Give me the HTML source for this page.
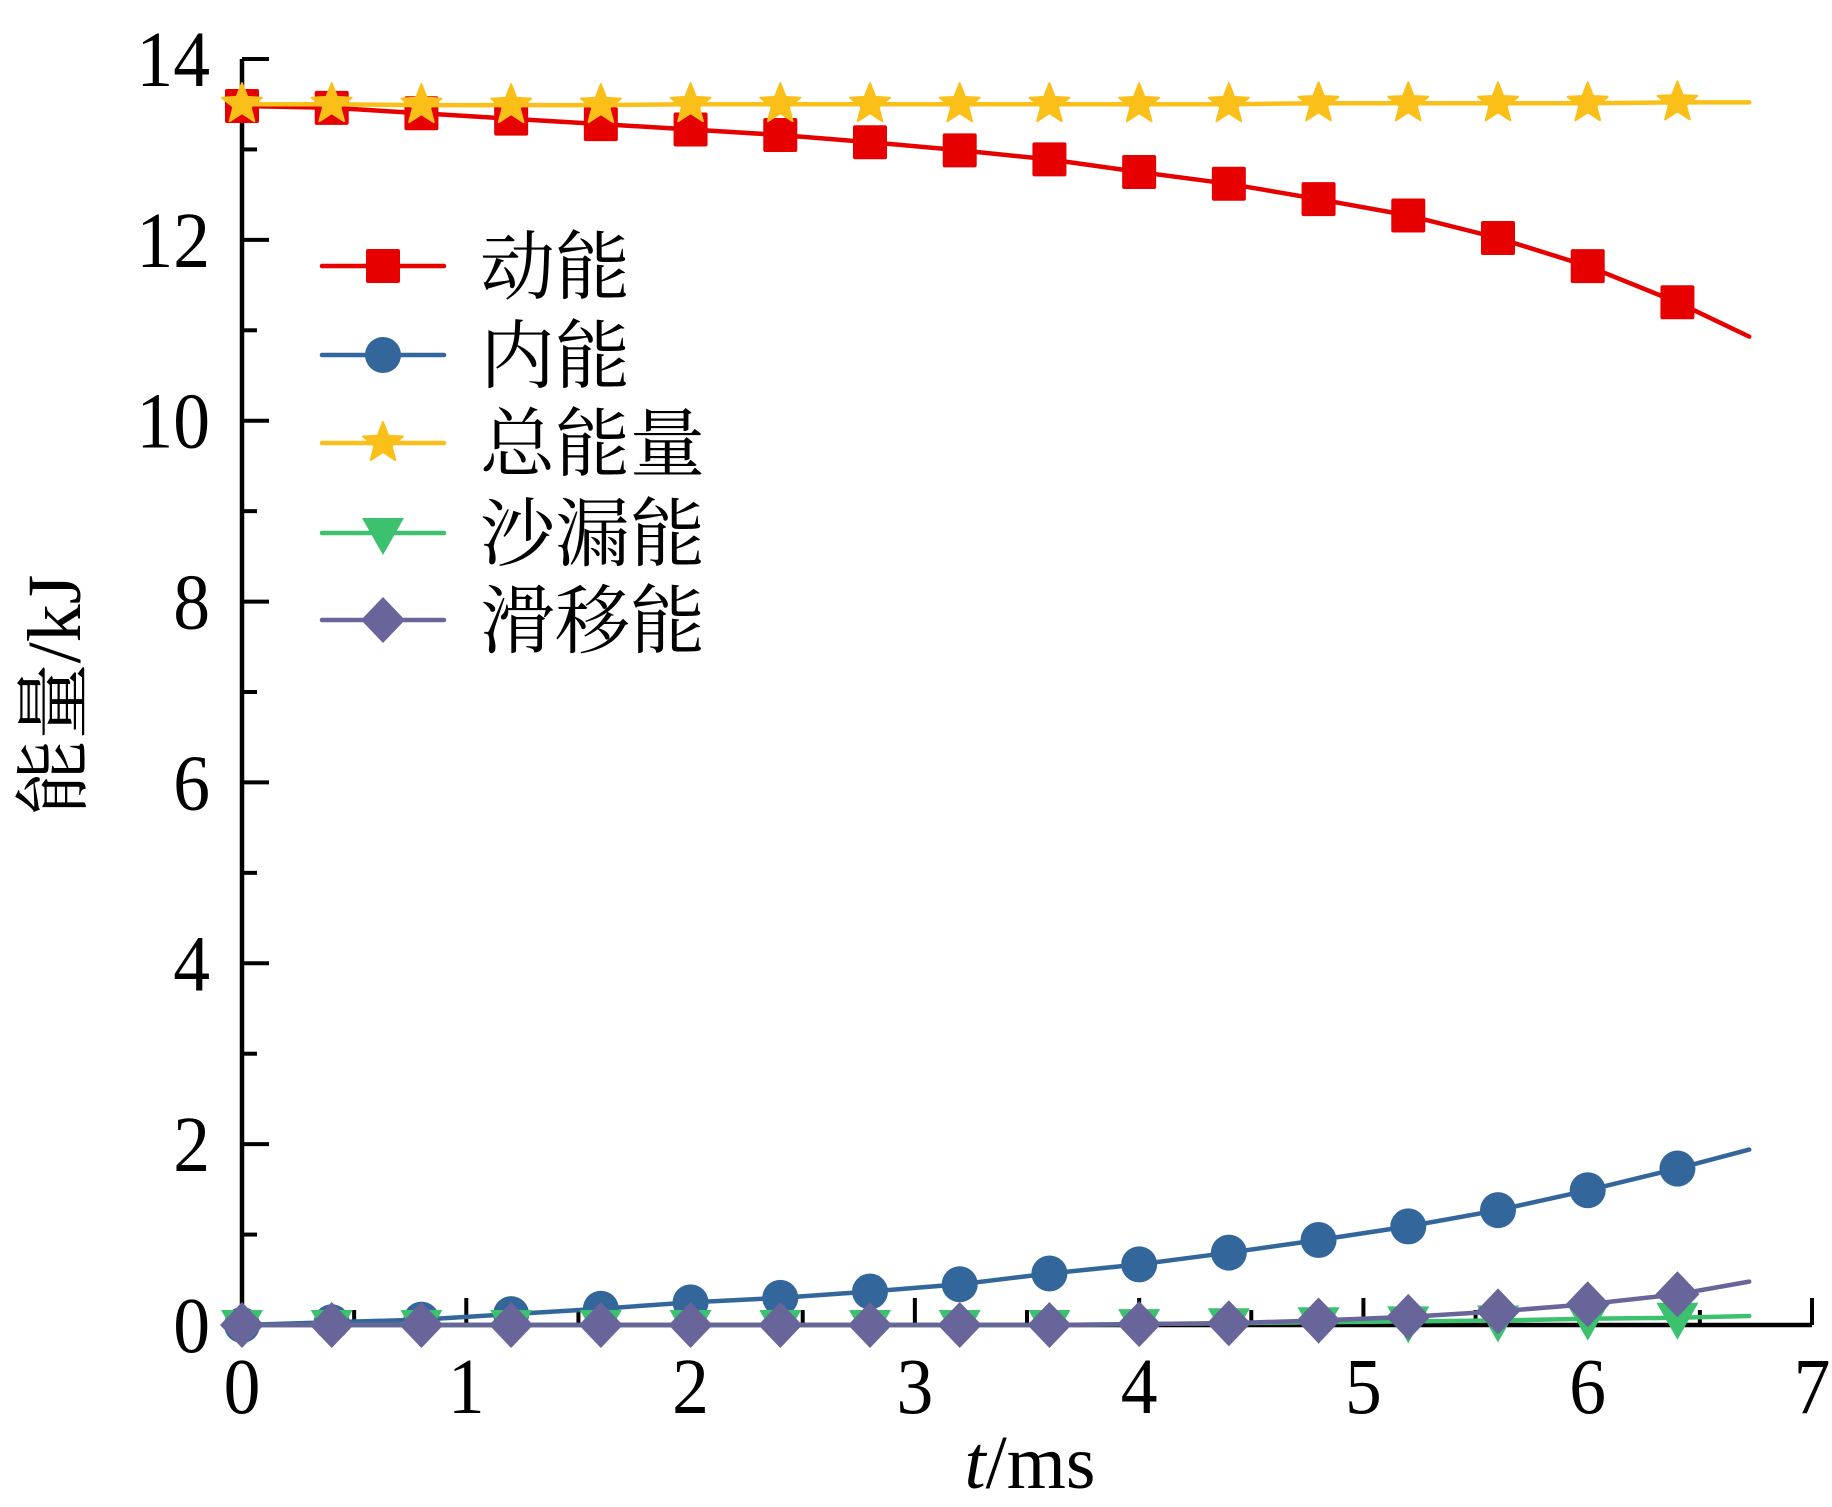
<!DOCTYPE html>
<html><head><meta charset="utf-8"><style>
html,body{margin:0;padding:0;background:#fff;}
svg{display:block;}
</style></head><body>
<svg id="chart" width="1832" height="1507" viewBox="0 0 1832 1507" xmlns="http://www.w3.org/2000/svg">
<g id="grid-axes"></g>
<g id="series"></g>
<g id="legend"></g>
<text transform="translate(80,695) rotate(-90)" text-anchor="middle" font-family="Liberation Serif, Noto Serif CJK SC, serif" font-size="76">能量/kJ</text>
<text x="1030" y="1488" text-anchor="middle" font-family="Liberation Serif, serif" font-size="76"><tspan font-style="italic">t</tspan>/ms</text>
</svg>
<script>
const markerT = [0,0.4,0.8,1.2,1.6,2.0,2.4,2.8,3.2,3.6,4.0,4.4,4.8,5.2,5.6,6.0,6.4,6.72];
const kinetic = [13.48,13.46,13.40,13.34,13.28,13.22,13.16,13.08,12.99,12.89,12.75,12.62,12.45,12.27,12.02,11.71,11.31,10.93];
const internal = [0,0.03,0.06,0.12,0.18,0.25,0.30,0.37,0.45,0.57,0.67,0.80,0.94,1.09,1.27,1.49,1.73,1.94];
const total = [13.50,13.50,13.49,13.49,13.49,13.50,13.50,13.50,13.50,13.50,13.50,13.50,13.51,13.51,13.51,13.51,13.52,13.52];
const sand = [0,0,0,0,0,0,0,0,0,0,0.01,0.02,0.03,0.04,0.05,0.07,0.08,0.10];
const slip = [0,0,0,0,0,0,0,0,0,0,0.01,0.02,0.05,0.09,0.15,0.23,0.34,0.48];
const xTicks = [0,1,2,3,4,5,6,7];
const yTicks = [0,2,4,6,8,10,12,14];
const names = ['动能','内能','总能量','沙漏能','滑移能'];

const NS='http://www.w3.org/2000/svg';
const X0=242, X1=1812, Y0=1325, Y1=59;
const xs=t=>X0+(X1-X0)*t/7;
const ys=v=>Y0-(Y0-Y1)*v/14;
function mk(tag,attrs,parent){const e=document.createElementNS(NS,tag);for(const k in attrs)e.setAttribute(k,attrs[k]);parent.appendChild(e);return e;}
const ax=document.getElementById('grid-axes');
let e;
e=mk('line',{x1:X0,y1:Y1,x2:X0,y2:Y0,stroke:'#000','stroke-width':4.5},ax);


e=mk('line',{x1:X0-2,y1:Y0,x2:X1,y2:Y0,stroke:'#000','stroke-width':4.5},ax);


for(let v=0;v<=14;v+=1){
  const major=v%2===0;
  e=mk('line',{x1:X0,y1:ys(v),x2:X0+(major?27:15),y2:ys(v),stroke:'#000','stroke-width':4},ax);
  
  
}
for(let t=0;t<=7;t+=0.5){
  const major=Number.isInteger(t);
  e=mk('line',{x1:xs(t),y1:Y0,x2:xs(t),y2:Y0-(major?27:15),stroke:'#000','stroke-width':4},ax);
  
  
}
yTicks.forEach(v=>{
  e=mk('text',{x:0,y:0,'text-anchor':'end','font-family':'Liberation Serif, serif','font-size':80,transform:`translate(210,${ys(v)+27}) scale(0.92,1)`},ax);
  e.textContent=v;
  
  
});
xTicks.forEach(t=>{
  e=mk('text',{x:0,y:0,'text-anchor':'middle','font-family':'Liberation Serif, serif','font-size':80,transform:`translate(${xs(t)},1413) scale(0.92,1)`},ax);
  e.textContent=t;
  
  
});
function marker(type,cx,cy,color,parent){
  let m;
  if(type==='square') m=mk('rect',{x:cx-17,y:cy-17,width:34,height:34,rx:2,fill:color},parent);
  else if(type==='circle') m=mk('circle',{cx:cx,cy:cy,r:18,fill:color},parent);
  else if(type==='star'){
    let p=[];for(let i=0;i<10;i++){const r=i%2?9:21;const a=-Math.PI/2+i*Math.PI/5;p.push((cx+r*Math.cos(a)).toFixed(1)+','+(cy+r*Math.sin(a)).toFixed(1));}
    m=mk('polygon',{points:p.join(' '),fill:color,stroke:color,'stroke-width':2,'stroke-linejoin':'round'},parent);
  } else if(type==='tri') m=mk('polygon',{points:`${cx-21},${cy-15} ${cx+21},${cy-15} ${cx},${cy+22}`,fill:color,'stroke-linejoin':'round'},parent);
  else m=mk('polygon',{points:`${cx},${cy-23} ${cx+22},${cy} ${cx},${cy+23} ${cx-22},${cy}`,fill:color},parent);
  return m;
}
const series=[
  {id:'kinetic',d:kinetic,c:'#e60000',m:'square'},
  {id:'internal',d:internal,c:'#33679c',m:'circle'},
  {id:'total',d:total,c:'#fbbf1a',m:'star'},
  {id:'sand',d:sand,c:'#3cc16e',m:'tri'},
  {id:'slip',d:slip,c:'#67659a',m:'diamond'}
];
const sg=document.getElementById('series');
const order=[0,1,3,4,2];
order.forEach(i=>{
  const s=series[i];
  const g=mk('g',{},sg);
  
  
  const pts=markerT.map((t,j)=>xs(t).toFixed(1)+','+ys(s.d[j]).toFixed(1)).join(' ');
  e=mk('polyline',{points:pts,fill:'none',stroke:s.c,'stroke-width':4.5,'stroke-linejoin':'round','stroke-linecap':'round'},g);
  
  
  markerT.forEach((t,j)=>{
    if(j===markerT.length-1) return;
    const m=marker(s.m,xs(t),ys(s.d[j]),s.c,g);
    
    
  });
});
const lg=document.getElementById('legend');
const rowY=[266,355,443,533,620];
series.forEach((s,i)=>{
  const g=mk('g',{},lg);
  
  
  mk('line',{x1:322,y1:rowY[i],x2:444,y2:rowY[i],stroke:s.c,'stroke-width':4.5,'stroke-linecap':'round'},g);
  marker(s.m,383,rowY[i],s.c,g);
  const t=mk('text',{x:480,y:rowY[i]+27,'font-family':'Liberation Serif, Noto Serif CJK SC, serif','font-size':75},g);
  t.textContent=names[i];
});
</script>
</body></html>
